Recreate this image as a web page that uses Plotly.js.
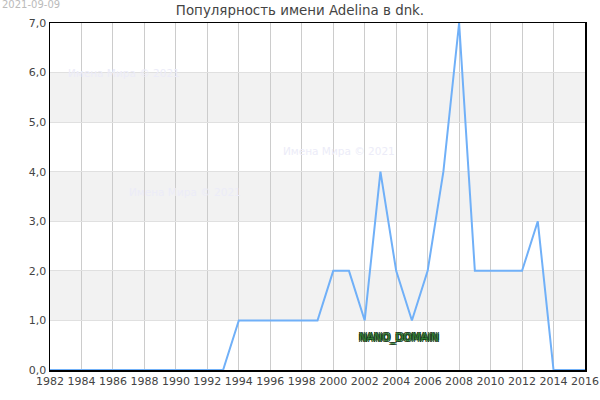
<!DOCTYPE html>
<html>
<head>
<meta charset="utf-8">
<script src="https://cdn.plot.ly/plotly-3.0.1.min.js"></script>
<style>html,body{margin:0;padding:0;background:#fff;}#chart{width:600px;height:400px;}</style>
</head>
<body>
<div id="chart"></div>
<script>
const years = [1982,1983,1984,1985,1986,1987,1988,1989,1990,1991,1992,1993,1994,1995,1996,1997,1998,1999,2000,2001,2002,2003,2004,2005,2006,2007,2008,2009,2010,2011,2012,2013,2014,2015,2016];
const values = [0,0,0,0,0,0,0,0,0,0,0,0,1,1,1,1,1,1,2,2,1,4,2,1,2,4,7,2,2,2,2,3,0,0,0];
const xTicks = [1982,1984,1986,1988,1990,1992,1994,1996,1998,2000,2002,2004,2006,2008,2010,2012,2014,2016];
const yTicks = [0,1,2,3,4,5,6,7];
const bands = [[1,2],[3,4],[5,6]];
const titleText = "Популярность имени Adelina в dnk.";
const dateText = "2021-09-09";
const watermark = "Имена Мира © 2021";

const shapes = bands.map(b => ({type:'rect', xref:'paper', yref:'y', x0:0, x1:1, y0:b[0], y1:b[1], fillcolor:'#f2f2f2', line:{width:0}, layer:'below'}));

const layout = {
  width:600, height:400,
  margin:{l:50, r:15, t:23, b:30},
  paper_bgcolor:'#fff', plot_bgcolor:'#fff',
  separators:', ',
  font:{family:'DejaVu Sans', size:11, color:'#444'},
  title:{text:titleText, font:{family:'DejaVu Sans', size:13.4, color:'#444'}, x:0.5, xanchor:'center', y:(400-10)/400, yanchor:'middle', yref:'container'},
  xaxis:{range:[1982,2016], tickvals:xTicks, ticktext:xTicks.map(String), showgrid:true, gridcolor:'#cccccc', gridwidth:1, showline:true, linecolor:'#000', linewidth:1.5, mirror:true, zeroline:false, ticks:'', tickfont:{size:11, color:'#444'}},
  yaxis:{range:[0,7], tickvals:yTicks, tickformat:'.1f', showgrid:true, gridcolor:'#e0e0e0', gridwidth:1, showline:true, linecolor:'#000', linewidth:1.5, mirror:true, zeroline:false, ticks:'', tickfont:{size:11, color:'#444'}},
  shapes:shapes,
  showlegend:false,
  annotations:[
    {text:dateText, xref:'paper', yref:'paper', x:-0.094, y:1.053, xanchor:'left', yanchor:'middle', showarrow:false, font:{size:10, color:'#bbbbbb'}},
    {text:watermark, xref:'x', yref:'y', x:1983, y:5.99, xanchor:'left', yanchor:'middle', showarrow:false, font:{size:10.5, color:'#ececf8'}},
    {text:watermark, xref:'x', yref:'y', x:1986.9, y:3.59, xanchor:'left', yanchor:'middle', showarrow:false, font:{size:10.5, color:'#ececf8'}},
    {text:watermark, xref:'x', yref:'y', x:1996.7, y:4.42, xanchor:'left', yanchor:'middle', showarrow:false, font:{size:10.5, color:'#ececf8'}},
    {text:'NANO_DOMAIN', xref:'x', yref:'y', x:2004.2, y:0.665, xanchor:'center', yanchor:'middle', showarrow:false, font:{size:10.5, color:'#2e7d32', shadow:'1px 1px 0 #1b3d1b, -1px -1px 0 #1b3d1b, 1px -1px 0 #1b3d1b, -1px 1px 0 #1b3d1b'}}
  ]
};

Plotly.newPlot('chart', [{x:years, y:values, type:'scatter', mode:'lines', line:{color:'#70b0f8', width:2}, hoverinfo:'skip'}], layout, {staticPlot:true, displayModeBar:false});
</script>
</body>
</html>
